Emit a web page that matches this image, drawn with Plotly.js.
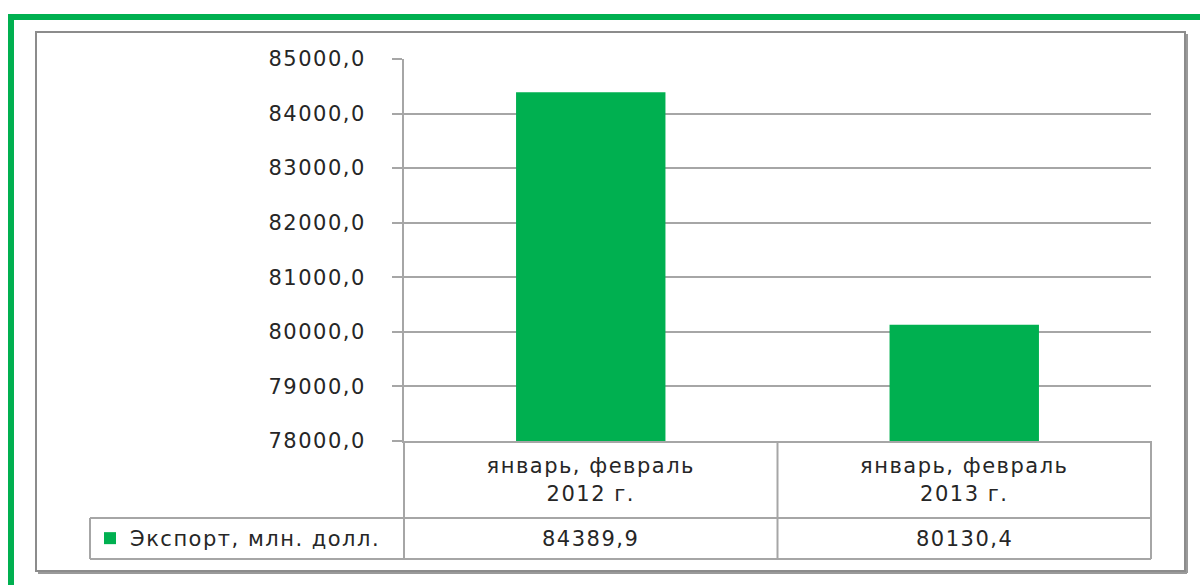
<!DOCTYPE html>
<html>
<head>
<meta charset="utf-8">
<script src="https://cdn.plot.ly/plotly-3.0.1.min.js"></script>
<style>
  html, body { margin: 0; padding: 0; background: #ffffff; }
  #chart { width: 1200px; height: 585px; }
  svg text { letter-spacing: 1.5px; }
</style>
</head>
<body>
<div id="chart"></div>
<script>
// ---- data ----
const categoryLine1 = ['январь, февраль', 'январь, февраль'];
const categoryLine2 = ['2012 г.', '2013 г.'];
const seriesName = 'Экспорт, млн. долл.';
const exportValues = [84389.9, 80130.4];
const yTickValues = [78000, 79000, 80000, 81000, 82000, 83000, 84000, 85000];

// ---- layout geometry (pixels) ----
const W = 1200, H = 585;
const plotL = 404, plotR = 1151, plotT = 59, plotB = 441;
const px2x = x => (x - plotL) / (plotR - plotL);
const px2y = y => (plotB - y) / (plotB - plotT);

const barColor = '#00B050';
const gridColor = '#a6a6a6';
const textColor = '#262626';
const fontFamily = '"DejaVu Sans", Verdana, sans-serif';
const fs = 21;

const catIdx = categoryLine1.map((_, i) => i);
const tickText = categoryLine1.map((l, i) => l + '<br>' + categoryLine2[i]);
const fmt = v => v.toFixed(1).replace('.', ',');

const trace = {
  type: 'bar',
  name: seriesName,
  x: catIdx,
  y: exportValues,
  marker: { color: barColor },
  hoverinfo: 'skip',
  showlegend: true
};

const lineStyle = { color: gridColor, width: 2 };
const rowMid = 518, rowBot = 559, legendL = 90;
const shapes = [
  // green outer frame (top and left)
  { type: 'line', xref: 'paper', yref: 'paper', x0: px2x(8), x1: px2x(1210), y0: px2y(17), y1: px2y(17),
    line: { color: barColor, width: 6 } },
  { type: 'line', xref: 'paper', yref: 'paper', x0: px2x(11), x1: px2x(11), y0: px2y(14), y1: px2y(600),
    line: { color: barColor, width: 6 } },
  // inner gray chart frame with shadow
  { type: 'rect', xref: 'paper', yref: 'paper', x0: px2x(36), x1: px2x(1185), y0: px2y(32), y1: px2y(571),
    line: { color: '#8c8c8c', width: 2 } },
  { type: 'line', xref: 'paper', yref: 'paper', x0: px2x(1187), x1: px2x(1187), y0: px2y(34), y1: px2y(573),
    line: { color: '#9a9a9a', width: 2 } },
  { type: 'line', xref: 'paper', yref: 'paper', x0: px2x(38), x1: px2x(1187), y0: px2y(573), y1: px2y(573),
    line: { color: '#9a9a9a', width: 2 } },
  // data table lines
  { type: 'line', xref: 'paper', yref: 'paper', x0: px2x(legendL), x1: 1, y0: px2y(rowMid), y1: px2y(rowMid), line: lineStyle },
  { type: 'line', xref: 'paper', yref: 'paper', x0: px2x(legendL), x1: 1, y0: px2y(rowBot), y1: px2y(rowBot), line: lineStyle },
  { type: 'line', xref: 'paper', yref: 'paper', x0: px2x(legendL), x1: px2x(legendL), y0: px2y(rowMid), y1: px2y(rowBot), line: lineStyle },
  { type: 'line', xref: 'paper', yref: 'paper', x0: 0, x1: 0, y0: 0, y1: px2y(rowBot), line: lineStyle },
  { type: 'line', xref: 'paper', yref: 'paper', x0: 0.5, x1: 0.5, y0: 0, y1: px2y(rowBot), line: lineStyle },
  { type: 'line', xref: 'paper', yref: 'paper', x0: 1, x1: 1, y0: 0, y1: px2y(rowBot), line: lineStyle }
];

const annotations = exportValues.map((v, i) => ({
  xref: 'x', yref: 'paper', x: catIdx[i], y: px2y((rowMid + rowBot) / 2),
  text: fmt(v), showarrow: false, xanchor: 'center', yanchor: 'middle',
  font: { family: fontFamily, size: fs, color: textColor }
}));

const layout = {
  width: W, height: H,
  margin: { l: plotL, r: W - plotR, t: plotT, b: H - plotB, pad: 0 },
  paper_bgcolor: '#ffffff', plot_bgcolor: '#ffffff',
  separators: ', ',
  bargap: 0.6,
  font: { family: fontFamily, size: fs, color: textColor },
  xaxis: {
    type: 'linear', range: [-0.5, 1.5], tickvals: catIdx, ticktext: tickText,
    showgrid: false, zeroline: false, showline: true, linecolor: gridColor, linewidth: 2,
    ticks: '', ticklabelstandoff: 5, tickfont: { family: fontFamily, size: fs, color: textColor },
    fixedrange: true
  },
  yaxis: {
    range: [78000, 85000], tickvals: yTickValues, tickformat: '.1f',
    showgrid: true, gridcolor: gridColor, gridwidth: 2, zeroline: false,
    showline: true, linecolor: gridColor, linewidth: 2,
    ticks: 'outside', ticklen: 10, tickwidth: 2, tickcolor: gridColor,
    ticklabelstandoff: 22, tickfont: { family: fontFamily, size: fs, color: textColor },
    fixedrange: true
  },
  showlegend: true,
  legend: {
    x: px2x(legendL), xanchor: 'left', y: px2y((rowMid + rowBot) / 2), yanchor: 'middle',
    bgcolor: 'rgba(0,0,0,0)', borderwidth: 0,
    font: { family: fontFamily, size: fs, color: textColor }
  },
  shapes: shapes,
  annotations: annotations
};

Plotly.newPlot('chart', [trace], layout, { displayModeBar: false, staticPlot: true });
</script>
</body>
</html>
